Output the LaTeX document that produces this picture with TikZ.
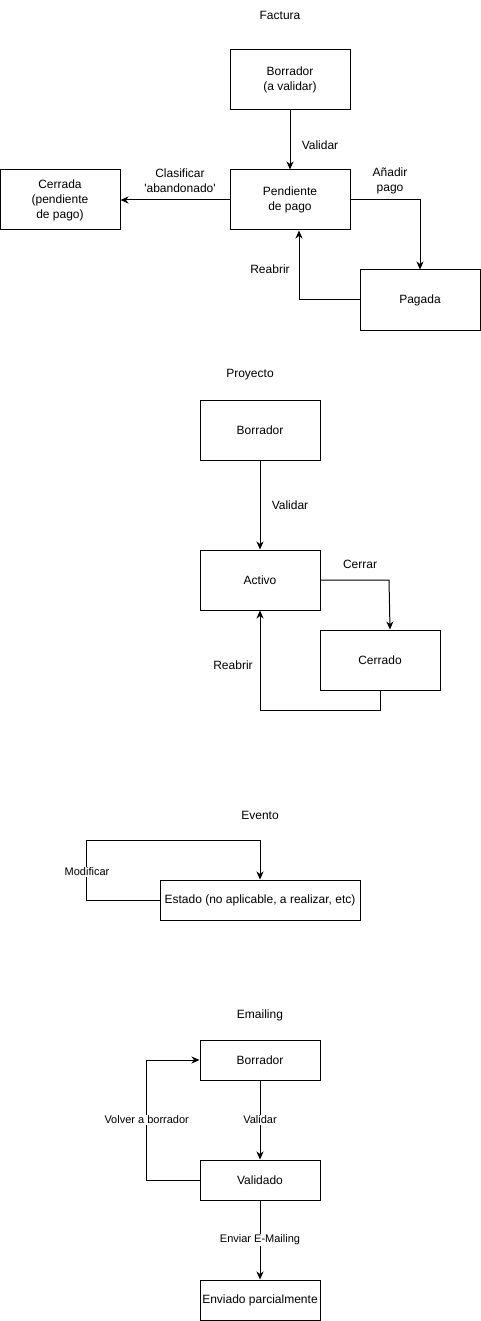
\documentclass[tikz,border=0pt]{standalone}
\usepackage{fontspec}
\setmainfont{Liberation Sans}
\usetikzlibrary{arrows.meta}
\begin{document}
\begin{tikzpicture}[x=1pt,y=-1pt,
  box/.style={draw,line width=1pt,minimum width=120pt,minimum height=60pt,
    inner sep=1pt,align=center,font=\fontsize{12}{15}\selectfont},
  ttl/.style={font=\fontsize{12}{15}\selectfont,inner sep=1pt},
  lbl/.style={font=\fontsize{12}{15}\selectfont,align=center,inner sep=1pt},
  slbl/.style={font=\fontsize{11}{13}\selectfont,fill=white,inner sep=1pt},
  arr/.style={line width=1pt,-{Stealth[length=8pt,width=7pt,inset=2.5pt]}}
]
\useasboundingbox (0,0) rectangle (481,1321);

% ---------- Factura ----------
\node[ttl] (tf) at (280,15) {Factura};
\node[box] (fb) at (290,80) {Borrador\\(a validar)};
\node[box] (fp) at (290,200) {Pendiente\\de pago};
\node[box] (fc) at (60,200) {Cerrada\\(pendiente\\de pago)};
\node[box] (fg) at (420,300) {Pagada};
\draw[arr] (fb) -- (fp);
\draw[arr] (fp) -- (fc);
\draw[arr] (fp.east) -| (fg.north);
\draw[arr] (fg.west) -| ([xshift=9pt]fp.south);
\node[lbl] (lfv) at (320,145) {Validar};
\node[lbl] (lfc) at (180,181) {Clasificar\\\textquotesingle abandonado\textquotesingle};
\node[lbl] (lfa) at (390,181) {Añadir\\pago};
\node[lbl] (lfr) at (270,269) {Reabrir};

% ---------- Proyecto ----------
\node[ttl] (tp) at (250,375) {Proyecto};
\node[box] (pb) at (260,430) {Borrador};
\node[box] (pa) at (260,580) {Activo};
\node[box] (pc) at (380,660) {Cerrado};
\coordinate (pk) at (389,580);
\draw[arr] (pb) -- (pa);
\draw[arr] (pa.east) -- (pk) -- ([xshift=10pt]pc.north);
\draw[arr] (pc.south) -- ++(0,20) -| (pa.south);
\node[lbl] (lpv) at (290,505) {Validar};
\node[lbl] (lpc) at (360,564) {Cerrar};
\node[lbl] (lpr) at (233,665) {Reabrir};

% ---------- Evento ----------
\node[ttl] (te) at (260,815) {Evento};
\node[box,minimum width=200pt,minimum height=40pt] (ev) at (260,900)
  {Estado (no aplicable, a realizar, etc)};
\coordinate (eloop) at (86.7,840);
\draw[arr] (ev.west) -| (eloop) -| (ev.north);
\node[slbl] (lem) at (87,872) {Modificar};

% ---------- Emailing ----------
\node[ttl] (tm) at (260,1015) {Emailing};
\node[box,minimum height=40pt] (mb) at (260,1060) {Borrador};
\node[box,minimum height=40pt] (mv) at (260,1180) {Validado};
\node[box,minimum height=40pt] (me) at (260,1300) {Enviado parcialmente};
\coordinate (mturn) at (146.7,1060);
\draw[arr] (mb) -- node[slbl] {Validar} (mv);
\draw[arr] (mv) -- node[slbl] {Enviar E-Mailing} (me);
\draw[arr] (mv.west) -| node[slbl,pos=0.75] {Volver a borrador} (mturn) -- (mb.west);
\end{tikzpicture}
\end{document}
